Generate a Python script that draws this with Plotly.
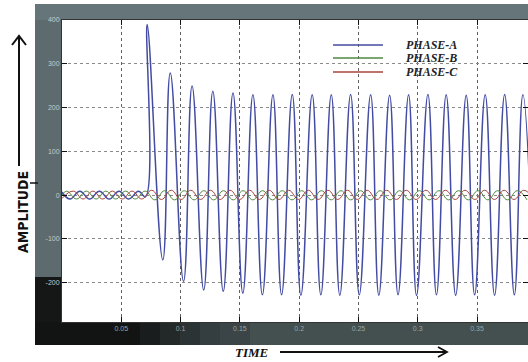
import plotly.graph_objects as go

# ---------------- data ----------------
# Phase A: extrema (time s, amplitude) - small pre-fault wave, then fault at ~0.07 s
t_a = [0.0000, 0.0068, 0.0150, 0.0233, 0.0315, 0.0398, 0.0481, 0.0563, 0.0646, 0.0703,
       0.0718, 0.0850, 0.0913, 0.1025, 0.1097, 0.1195, 0.1272, 0.1360, 0.1442, 0.1525,
       0.1610, 0.1690, 0.1779, 0.1852, 0.1942, 0.2015, 0.2110, 0.2183, 0.2271, 0.2343,
       0.2434, 0.2507, 0.2603, 0.2672, 0.2763, 0.2834, 0.2923, 0.2990, 0.3086, 0.3158,
       0.3240, 0.3320, 0.3409, 0.3480, 0.3569, 0.3648, 0.3733, 0.3815, 0.3887, 0.3975]
v_a = [7, -9, 9, -9, 9, -9, 9, -9, 9, -4,
       390, -148, 279, -197, 249, -217, 237, -220, 233, -224,
       229, -228, 229, -228, 230, -229, 229, -228, 229, -229,
       230, -228, 229, -229, 228, -228, 229, -229, 230, -228,
       229, -229, 228, -228, 229, -229, 230, -228, 229, -229]

# Phase B: extrema
t_b = [0.0000, 0.0040, 0.0123, 0.0205, 0.0288, 0.0370, 0.0453, 0.0536, 0.0618, 0.0701,
       0.0783, 0.0866, 0.0949, 0.1031, 0.1114, 0.1196, 0.1279, 0.1362, 0.1444, 0.1527,
       0.1609, 0.1692, 0.1775, 0.1857, 0.1940, 0.2022, 0.2105, 0.2188, 0.2270, 0.2353,
       0.2435, 0.2518, 0.2601, 0.2683, 0.2766, 0.2848, 0.2931, 0.3014, 0.3096, 0.3179,
       0.3261, 0.3344, 0.3427, 0.3509, 0.3592, 0.3674, 0.3757, 0.3840, 0.3922]
v_b = [0, 9, -9, 9, -9, 9, -9, 9, -9, 9,
       -11, 10, -11, 10, -11, 10, -11, 10, -11, 10,
       -11, 10, -11, 10, -11, 10, -11, 10, -11, 10,
       -11, 10, -11, 10, -11, 10, -11, 10, -11, 10,
       -11, 10, -11, 10, -11, 10, -11, 10, -11]

# Phase C: extrema
t_c = [0.0000, 0.0095, 0.0178, 0.0260, 0.0343, 0.0425, 0.0508, 0.0591, 0.0673, 0.0756,
       0.0838, 0.0921, 0.1004, 0.1086, 0.1169, 0.1251, 0.1334, 0.1417, 0.1499, 0.1582,
       0.1664, 0.1747, 0.1830, 0.1912, 0.1995, 0.2077, 0.2160, 0.2243, 0.2325, 0.2408,
       0.2490, 0.2573, 0.2656, 0.2738, 0.2821, 0.2903, 0.2986, 0.3069, 0.3151, 0.3234,
       0.3316, 0.3399, 0.3482, 0.3564, 0.3647, 0.3729, 0.3812, 0.3895, 0.3977]
v_c = [-8, 9, -9, 9, -9, 9, -9, 9, -9, 11,
       -10, 11, -10, 11, -10, 11, -10, 11, -10, 11,
       -10, 11, -10, 11, -10, 11, -10, 11, -10, 11,
       -10, 11, -10, 11, -10, 11, -10, 11, -10, 11,
       -10, 11, -10, 11, -10, 11, -10, 11, -10]

series_names = ["PHASE-A", "PHASE-B", "PHASE-C"]
x_tick_vals = [0.05, 0.1, 0.15, 0.2, 0.25, 0.3, 0.35]
x_tick_text = ["0.05", "0.1", "0.15", "0.2", "0.25", "0.3", "0.35"]
y_tick_vals = [-200, -100, 0, 100, 200, 300, 400]
y_tick_text = ["-200", "-100", "0", "100", "200", "300", "400"]

# ---------------- styling ----------------
colors = ["#434ca2", "#4e8a3e", "#a8433d"]
widths = [1.5, 1.0, 1.0]

W_FIG, H_FIG = 528, 362
L, T, W, H = 62, 20, 466, 302  # plot area in px


def px(x):
    return (x - L) / W


def py(y):
    return 1 - (y - T) / H


fig = go.Figure()
for t, v, name, c, w in zip([t_a, t_b, t_c], [v_a, v_b, v_c], series_names, colors, widths):
    fig.add_trace(go.Scatter(x=t, y=v, mode="lines", name=name,
                             line=dict(color=c, width=w, shape="spline", smoothing=1.3),
                             showlegend=False))

shapes = []


def rect(x0, y0, x1, y1, color):
    shapes.append(dict(type="rect", xref="paper", yref="paper", layer="below",
                       x0=px(x0), x1=px(x1), y0=py(y1), y1=py(y0),
                       fillcolor=color, line=dict(width=0)))


# photographed figure frame
rect(35, 4, 528, 20, "#66757a")
rect(35, 20, 62, 277, "#5d6b6f")
rect(35, 277, 62, 322, "#151616")
band = [(35, 140, "#121313"), (140, 160, "#1a1d1e"), (160, 180, "#232829"),
        (180, 200, "#2c3334"), (200, 220, "#343d3f"), (220, 250, "#3b4547"),
        (250, 528, "#43504f")]
for x0, x1, c in band:
    rect(x0, 322, x1, 345, c)


def line(x0, y0, x1, y1, color, width):
    shapes.append(dict(type="line", xref="paper", yref="paper",
                       x0=px(x0), y0=py(y0), x1=px(x1), y1=py(y1),
                       line=dict(color=color, width=width)))


def path(points, color, width):
    d = "M " + " L ".join(f"{px(a)},{py(b)}" for a, b in points)
    shapes.append(dict(type="path", xref="paper", yref="paper", path=d,
                       line=dict(color=color, width=width)))


# legend samples
leg_rows = [45, 58, 72]
for yrow, c in zip(leg_rows, colors):
    line(333, yrow, 383, yrow, c, 1.6)

# axis-title arrows
line(19, 166, 19, 37, "#111", 2)
path([(12, 45), (19, 36), (26, 45)], "#111", 2)
line(30, 183, 38, 183, "#111", 1.5)
line(280, 352, 446, 352, "#111", 1.8)
path([(438, 347), (447, 352), (438, 357)], "#111", 1.8)

annotations = []
for yrow, name in zip(leg_rows, series_names):
    annotations.append(dict(xref="paper", yref="paper", x=px(404), y=py(yrow),
                            xanchor="left", yanchor="middle", showarrow=False,
                            text=f"<b><i>{name}</i></b>",
                            font=dict(family="Liberation Serif, serif", size=12, color="#222")))
annotations.append(dict(xref="paper", yref="paper", x=px(23), y=py(212),
                        xanchor="center", yanchor="middle", showarrow=False, textangle=-90,
                        text="<b>AMPLITUDE</b>",
                        font=dict(family="Liberation Sans Narrow, DejaVu Sans Condensed, sans-serif",
                                  size=14, color="#111")))
annotations.append(dict(xref="paper", yref="paper", x=px(252), y=py(352),
                        xanchor="center", yanchor="middle", showarrow=False,
                        text="<b><i>TIME</i></b>",
                        font=dict(family="Liberation Serif, serif", size=13, color="#111")))

fig.update_layout(
    width=W_FIG, height=H_FIG, autosize=False,
    margin=dict(l=L, r=W_FIG - L - W, t=T, b=H_FIG - T - H, pad=0),
    paper_bgcolor="white", plot_bgcolor="white",
    shapes=shapes, annotations=annotations,
    xaxis=dict(range=[0, 0.393], tickvals=x_tick_vals, ticktext=x_tick_text,
               showgrid=True, gridcolor="#606060", griddash="dot", gridwidth=1,
               zeroline=False, ticks="inside", ticklen=5, tickcolor="#111",
               showline=True, linecolor="#333", mirror="ticks",
               tickfont=dict(family="Liberation Sans, sans-serif", size=7, color="#9aa4a6")),
    yaxis=dict(range=[-290, 400], tickvals=y_tick_vals, ticktext=y_tick_text,
               showgrid=True, gridcolor="#8a8a8a", griddash="dot", gridwidth=1,
               zeroline=False, ticks="inside", ticklen=5, tickcolor="#111",
               showline=True, linecolor="#333", mirror="ticks",
               tickfont=dict(family="Liberation Sans, sans-serif", size=7, color="#c4caca")),
)

fig.write_html("out.html")
